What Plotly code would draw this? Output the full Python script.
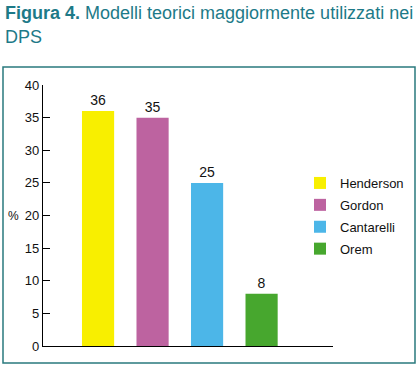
import plotly.graph_objects as go

categories = ["Henderson", "Gordon", "Cantarelli", "Orem"]
values = [36, 35, 25, 8]
colors = ["#f8ef00", "#bd63a0", "#4cb6e8", "#47a72e"]
y_ticks = [0, 5, 10, 15, 20, 25, 30, 35, 40]

W, H = 418, 367
L, R, T, B = 43, 85, 85, 21

fig = go.Figure()
for i, (cat, val, col) in enumerate(zip(categories, values, colors)):
    fig.add_trace(go.Bar(
        x=[i], y=[val], name=cat, marker=dict(color=col, line=dict(width=0)),
        width=0.59, text=[str(val)], textposition="outside",
        textfont=dict(size=14, color="#111111", family="Liberation Sans"),
        cliponaxis=False, legendgroup=cat,
    ))

pw = W - L - R
ph = H - T - B
def px_to_x(px):
    return (px - L) / pw
def px_to_y(py):
    return (H - B - py) / ph

title_font = dict(family="Liberation Sans", size=18, color="#1d7a88")

fig.update_layout(
    width=W, height=H,
    margin=dict(l=L, r=R, t=T, b=B, autoexpand=False),
    paper_bgcolor="white", plot_bgcolor="white",
    barmode="overlay",
    font=dict(family="Liberation Sans", size=13, color="#111111"),
    xaxis=dict(
        range=[-1.01, 4.31], showgrid=False, zeroline=False,
        showline=True, linecolor="black", linewidth=1.3,
        tickmode="array", tickvals=[4.31], ticks="inside", ticklen=6,
        tickcolor="black", tickwidth=1.3, showticklabels=False,
    ),
    yaxis=dict(
        range=[0, 40], tickvals=y_ticks, showgrid=False, zeroline=False,
        showline=True, linecolor="black", linewidth=1.3,
        ticks="inside", ticklen=7, tickcolor="black", tickwidth=1.3,
        tickfont=dict(size=13, color="#111111"), automargin=False,
    ),
    legend=dict(
        x=px_to_x(300), xanchor="left", y=px_to_y(168), yanchor="top",
        font=dict(size=13, color="#111111"),
        traceorder="grouped", tracegroupgap=2,
        bgcolor="rgba(0,0,0,0)",
    ),
    shapes=[dict(
        type="rect", xref="paper", yref="paper",
        x0=px_to_x(3), x1=px_to_x(415), y0=px_to_y(363), y1=px_to_y(67),
        line=dict(color="#2a7a7e", width=1.5), fillcolor="rgba(0,0,0,0)",
    )],
    annotations=[
        dict(
            text="%", xref="paper", yref="y", x=px_to_x(20.5), y=20,
            xanchor="right", showarrow=False,
            font=dict(size=12, color="#111111"),
        ),
        dict(
            text="<b>Figura 4.</b> Modelli teorici maggiormente utilizzati nei",
            xref="paper", yref="paper", x=px_to_x(3), y=px_to_y(13),
            xanchor="left", yanchor="middle", align="left", showarrow=False,
            font=title_font,
        ),
        dict(
            text="DPS",
            xref="paper", yref="paper", x=px_to_x(3), y=px_to_y(37),
            xanchor="left", yanchor="middle", align="left", showarrow=False,
            font=title_font,
        ),
    ],
)

fig.write_html("out.html", config={"displayModeBar": False},
               post_script="document.body.style.margin='0';")
